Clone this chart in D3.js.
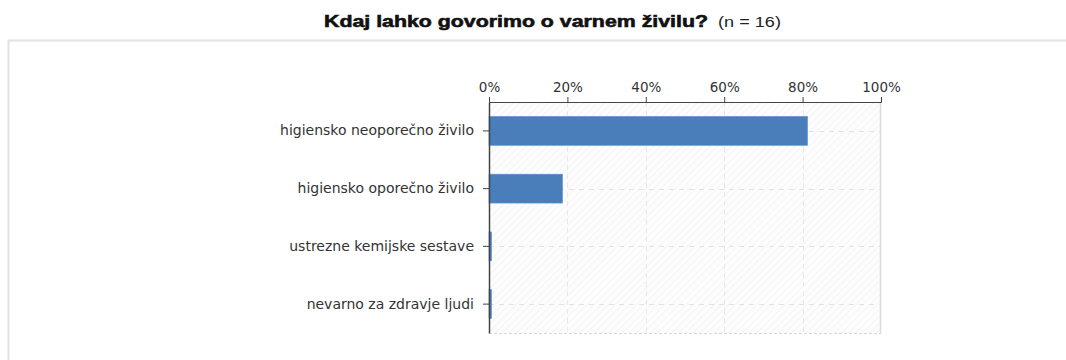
<!DOCTYPE html>
<html>
<head>
<meta charset="utf-8">
<script src="https://cdn.jsdelivr.net/npm/d3@7"></script>
<style>
  html, body { margin: 0; padding: 0; background: #fff; }
  svg { display: block; }
</style>
</head>
<body>
<svg id="chart" width="1066" height="360"></svg>
<script>
const titleMain = "Kdaj lahko govorimo o varnem živilu?";
const titleN = "(n = 16)";
const categories = ["higiensko neoporečno živilo", "higiensko oporečno živilo", "ustrezne kemijske sestave", "nevarno za zdravje ljudi"];
const values = [0.8125, 0.1875, 0, 0];
const xTicks = [0, 0.2, 0.4, 0.6, 0.8, 1.0];

const svg = d3.select("#chart");
const margin = { left: 489, right: 1066 - 881, top: 102, bottom: 360 - 333 };
const W = 1066, H = 360;

// outer frame
svg.append("rect").attr("x", 8.5).attr("y", 40.5).attr("width", 1070).attr("height", 400)
  .attr("fill", "none").attr("stroke", "#e2e2e2").attr("stroke-width", 2);

// title
svg.append("text").attr("x", 324).attr("y", 27).text(titleMain)
  .style("font-family", "'Liberation Sans', Arial, sans-serif").style("fill", "#111")
  .style("font-weight", "bold").style("font-size", "17px")
  .attr("stroke", "#111").attr("stroke-width", 0.6).attr("textLength", 384).attr("lengthAdjust", "spacingAndGlyphs");
svg.append("text").attr("x", 718).attr("y", 27).text(titleN)
  .style("font-family", "'Liberation Sans', Arial, sans-serif").style("font-size", "15.5px").style("fill", "#222")
  .attr("textLength", 63).attr("lengthAdjust", "spacingAndGlyphs");

const x = d3.scaleLinear().domain([0, 1]).range([margin.left, W - margin.right]);
const y = d3.scaleBand().domain(categories).range([margin.top, H - margin.bottom]).paddingInner(0.5).paddingOuter(0.25);

// hatch pattern
const defs = svg.append("defs");
const pat = defs.append("pattern").attr("id", "hatch").attr("patternUnits", "userSpaceOnUse")
  .attr("width", 5).attr("height", 5).attr("patternTransform", "rotate(45)");
pat.append("rect").attr("width", 5).attr("height", 5).attr("fill", "#fdfdfd");
pat.append("line").attr("x1", 0).attr("y1", 0).attr("x2", 0).attr("y2", 5).attr("stroke", "#f1f1f1").attr("stroke-width", 1.5);

const [x0, x1] = x.range();
const [y0, y1] = y.range();
svg.append("rect").attr("x", x0).attr("y", y0).attr("width", x1 - x0).attr("height", y1 - y0)
  .attr("fill", "url(#hatch)");

// vertical grid
svg.append("g").selectAll("line").data(xTicks.slice(1, -1)).join("line")
  .attr("x1", d => Math.round(x(d)) + 0.5).attr("x2", d => Math.round(x(d)) + 0.5)
  .attr("y1", y0).attr("y2", y1)
  .attr("stroke", "#e8e8e8").attr("stroke-dasharray", "5,4");
// horizontal grid at band centers
svg.append("g").selectAll("line").data(categories).join("line")
  .attr("x1", x0).attr("x2", x1)
  .attr("y1", d => Math.round(y(d) + y.bandwidth() / 2) + 0.5)
  .attr("y2", d => Math.round(y(d) + y.bandwidth() / 2) + 0.5)
  .attr("stroke", "#e2e2e2").attr("stroke-dasharray", "5,5");
// right & bottom border
svg.append("line").attr("x1", x1 - 0.5).attr("x2", x1 - 0.5).attr("y1", y0).attr("y2", y1)
  .attr("stroke", "#dadada").attr("stroke-width", 1.5);
svg.append("line").attr("x1", x0).attr("x2", x1).attr("y1", y1 + 0.5).attr("y2", y1 + 0.5)
  .attr("stroke", "#d8d8d8").attr("stroke-dasharray", "3,2");

// bars
svg.append("g").selectAll("rect").data(categories).join("rect")
  .attr("x", x0)
  .attr("y", d => y(d))
  .attr("width", (d, i) => Math.max(x(values[i]) - x0, 2.5))
  .attr("height", y.bandwidth())
  .attr("fill", "#4a7ebb")
  .attr("stroke", "#5b8fd0").attr("stroke-width", 0.6);

// axes
const fontFam = "'DejaVu Sans', Verdana, sans-serif";
const xAxis = svg.append("g").attr("transform", `translate(0,${y0})`)
  .call(d3.axisTop(x).tickValues(xTicks).tickFormat(d3.format(".0%")).tickSize(5).tickSizeOuter(5).tickPadding(5));
xAxis.selectAll("text").style("font-family", fontFam).style("font-size", "13.5px").style("fill", "#333");
xAxis.selectAll("line, path").attr("stroke", "#444");

const yAxis = svg.append("g").attr("transform", `translate(${x0},0)`)
  .call(d3.axisLeft(y).tickSize(6).tickSizeOuter(0).tickPadding(9));
yAxis.select(".domain").attr("stroke", "#444").attr("stroke-width", 1.5);
yAxis.selectAll(".tick line").attr("stroke", "#444");
yAxis.selectAll("text").style("font-family", fontFam).style("font-size", "14px").style("fill", "#333")
  .attr("textLength", (d, i) => null);
</script>
</body>
</html>
